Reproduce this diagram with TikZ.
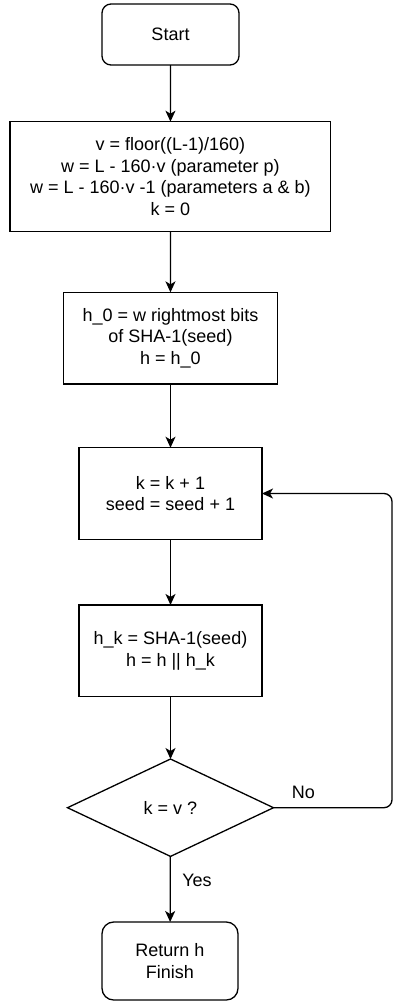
\documentclass[tikz,border=0pt]{standalone}
\usepackage{fontspec}
\setmainfont{Liberation Sans}
\usetikzlibrary{arrows.meta,shapes.geometric}
\begin{document}
\begin{tikzpicture}[x=1pt,y=-1pt,
  every node/.style={font=\fontsize{18}{21.6}\selectfont, inner sep=0pt, outer sep=0pt},
  stepbox/.style={draw, line width=1.3pt, align=center},
  term/.style={stepbox, rounded corners=#1},
  term/.default=10pt,
  decision/.style={draw, line width=1.3pt, diamond, aspect=2.12,
    minimum width=206pt, minimum height=97.4pt},
  flow/.style={line width=1.3pt, -{Stealth[length=11pt,width=10pt,inset=3pt]}},
  lbl/.style={}
]
\useasboundingbox (0,0) rectangle (394,1001);

% process steps
\node[term=9pt, minimum width=137pt, minimum height=61pt] (start) at (170.5,34.5) {Start};
\node[stepbox, minimum width=320.7pt, minimum height=110pt] (init) at (170.4,176.7)
  {v = floor((L-1)/160)\\ w = L - 160·v (parameter p)\\ w = L - 160·v -1 (parameters a \& b)\\ k = 0};
\node[stepbox, minimum width=214.4pt, minimum height=91.7pt] (hzero) at (170.5,338.2)
  {h\_0 = w rightmost bits\\ of SHA-1(seed)\\ h = h\_0};
\node[stepbox, minimum width=183pt, minimum height=91.6pt] (incr) at (170.5,493.5)
  {k = k + 1\\ seed = seed + 1};
\node[stepbox, minimum width=183pt, minimum height=91.7pt] (hk) at (170.5,650.8)
  {h\_k = SHA-1(seed)\\ h = h || h\_k};
\node[decision] (test) at (170.5,807.7) {k = v ?};
\node[term=11.7pt, align=center, minimum width=136pt, minimum height=78pt] (finish) at (170,961)
  {Return h\\ Finish};

% connectors
\draw[flow] (start) -- (init);
\draw[flow] (init) -- (hzero);
\draw[flow] (hzero) -- (incr);
\draw[flow] (incr) -- (hk);
\draw[flow] (hk) -- (test);
\draw[flow] (test) -- (finish);

\coordinate (loopx) at (392,807.7);
\draw[flow, rounded corners=8pt] (test.east) -- (loopx) |- (incr.east);

% branch labels
\node[lbl] (no) at (303.3,792.7) {No};
\node[lbl] (yes) at (197,880) {Yes};
\end{tikzpicture}
\end{document}
